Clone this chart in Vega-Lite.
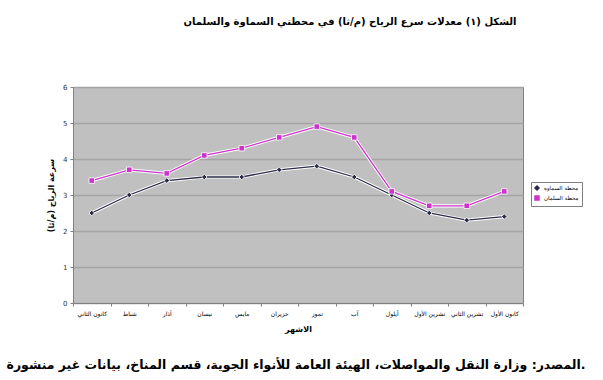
{
  "$schema": "https://vega.github.io/schema/vega-lite/v6.json",
  "autosize": {"type": "none"},
  "padding": {"left": 73, "top": 87, "right": 80, "bottom": 77},
  "width": 450,
  "height": 216,
  "background": "white",
  "config": {
    "font": "DejaVu Sans",
    "view": {"fill": "#c0c0c0", "stroke": "#808080", "strokeWidth": 1},
    "legend": {
      "orient": "none",
      "legendX": 458,
      "legendY": 95,
      "labelFontSize": 5.5,
      "labelColor": "#000000",
      "symbolSize": 16,
      "rowPadding": 0,
      "padding": 3,
      "strokeColor": "#808080",
      "fillColor": "white"
    }
  },
  "title": {
    "text": "الشكل (١) معدلات سرع الرياح (م/ثا) في محطتي السماوة والسلمان",
    "anchor": "middle",
    "frame": "group",
    "fontSize": 10,
    "fontWeight": "bold",
    "color": "#000000",
    "offset": 56,
    "dx": 52
  },
  "datasets": {
    "wind": [
      {"month": "كانون الثاني", "station": "محطة السماوة", "speed": 2.5},
      {"month": "شباط", "station": "محطة السماوة", "speed": 3.0},
      {"month": "آذار", "station": "محطة السماوة", "speed": 3.4},
      {"month": "نيسان", "station": "محطة السماوة", "speed": 3.5},
      {"month": "مايس", "station": "محطة السماوة", "speed": 3.5},
      {"month": "حزيران", "station": "محطة السماوة", "speed": 3.7},
      {"month": "تموز", "station": "محطة السماوة", "speed": 3.8},
      {"month": "آب", "station": "محطة السماوة", "speed": 3.5},
      {"month": "أيلول", "station": "محطة السماوة", "speed": 3.0},
      {"month": "تشرين الأول", "station": "محطة السماوة", "speed": 2.5},
      {"month": "تشرين الثاني", "station": "محطة السماوة", "speed": 2.3},
      {"month": "كانون الأول", "station": "محطة السماوة", "speed": 2.4},
      {"month": "كانون الثاني", "station": "محطة السلمان", "speed": 3.4},
      {"month": "شباط", "station": "محطة السلمان", "speed": 3.7},
      {"month": "آذار", "station": "محطة السلمان", "speed": 3.6},
      {"month": "نيسان", "station": "محطة السلمان", "speed": 4.1},
      {"month": "مايس", "station": "محطة السلمان", "speed": 4.3},
      {"month": "حزيران", "station": "محطة السلمان", "speed": 4.6},
      {"month": "تموز", "station": "محطة السلمان", "speed": 4.9},
      {"month": "آب", "station": "محطة السلمان", "speed": 4.6},
      {"month": "أيلول", "station": "محطة السلمان", "speed": 3.1},
      {"month": "تشرين الأول", "station": "محطة السلمان", "speed": 2.7},
      {"month": "تشرين الثاني", "station": "محطة السلمان", "speed": 2.7},
      {"month": "كانون الأول", "station": "محطة السلمان", "speed": 3.1}
    ]
  },
  "data": {"name": "wind"},
  "resolve": {"scale": {"x": "independent"}, "axis": {"x": "independent"}},
  "encoding": {
    "y": {
      "field": "speed",
      "type": "quantitative",
      "scale": {"domain": [0, 6], "nice": false},
      "axis": {
        "title": "سرعة الرياح (م/ثا)",
        "titleFontSize": 8,
        "titleFontWeight": "bold",
        "titleColor": "#000000",
        "titlePadding": 7,
        "values": [0, 1, 2, 3, 4, 5, 6],
        "labelFontSize": 7,
        "labelColor": "#333333",
        "labelPadding": 3,
        "tickSize": 3,
        "tickColor": "#808080",
        "domainColor": "#808080",
        "gridColor": "#a4a4a4",
        "gridWidth": 1.5
      }
    }
  },
  "layer": [
    {
      "mark": {"type": "line", "color": "white", "strokeWidth": 3.2},
      "encoding": {
        "x": {
          "field": "month",
          "type": "nominal",
          "sort": ["كانون الثاني", "شباط", "آذار", "نيسان", "مايس", "حزيران", "تموز", "آب", "أيلول", "تشرين الأول", "تشرين الثاني", "كانون الأول"],
          "scale": {"type": "band", "paddingInner": 0, "paddingOuter": 0},
          "axis": {
            "orient": "bottom",
            "title": "المصدر: وزارة النقل والمواصلات، الهيئة العامة للأنواء الجوية، قسم المناخ، بيانات غير منشورة.",
            "titleFontSize": 12.5,
            "titleFontWeight": "bold",
            "titleColor": "#000000",
            "titleAlign": "right",
            "titleX": 512,
            "titlePadding": 0,
            "offset": 55,
            "labels": false,
            "ticks": false,
            "domain": false,
            "grid": false
          }
        },
        "detail": {"field": "station", "type": "nominal"}
      }
    },
    {
      "encoding": {
        "x": {
          "field": "month",
          "type": "nominal",
          "sort": ["كانون الثاني", "شباط", "آذار", "نيسان", "مايس", "حزيران", "تموز", "آب", "أيلول", "تشرين الأول", "تشرين الثاني", "كانون الأول"],
          "scale": {"type": "band", "paddingInner": 0, "paddingOuter": 0},
          "axis": {
            "orient": "bottom",
            "title": "الاشهر",
            "titleFontSize": 8,
            "titleFontWeight": "bold",
            "titleColor": "#000000",
            "titlePadding": 9,
            "labelAngle": 0,
            "labelFontSize": 6,
            "labelColor": "#000000",
            "labelPadding": 4,
            "tickBand": "extent",
            "tickSize": 3,
            "tickColor": "#808080",
            "domainColor": "#808080",
            "grid": false
          }
        },
        "color": {
          "field": "station",
          "type": "nominal",
          "scale": {"domain": ["محطة السماوة", "محطة السلمان"], "range": ["#2b2b48", "#cc33cc"]},
          "legend": {"title": null}
        }
      },
      "layer": [
        {
          "mark": {"type": "line", "strokeWidth": 1.3}
        },
        {
          "mark": {"type": "point", "filled": true, "size": 30, "stroke": "white", "strokeWidth": 0.8, "opacity": 1},
          "encoding": {
            "shape": {
              "field": "station",
              "type": "nominal",
              "scale": {"domain": ["محطة السماوة", "محطة السلمان"], "range": ["diamond", "square"]},
              "legend": {"title": null}
            }
          }
        }
      ]
    }
  ]
}
